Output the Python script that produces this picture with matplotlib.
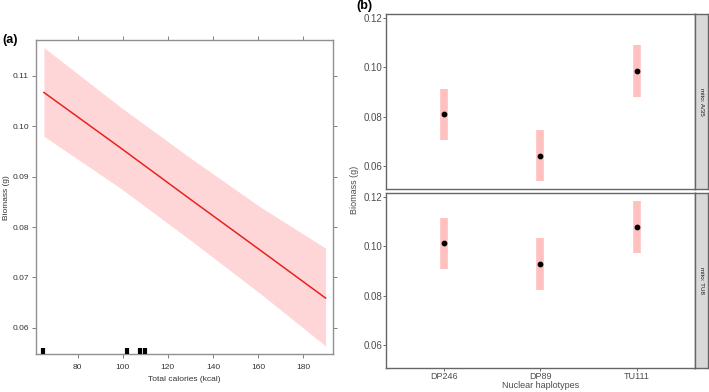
import matplotlib
matplotlib.use("Agg")
import matplotlib.pyplot as plt

plt.rcParams["font.family"] = ["Liberation Sans", "DejaVu Sans"]

# panel (a): fitted biomass vs total calories
calories = [65, 99, 130, 161, 190]
fit = [0.1067, 0.0957, 0.0855, 0.0754, 0.0659]
lower = [0.0980, 0.0877, 0.0774, 0.0668, 0.0564]
upper = [0.1156, 0.1038, 0.0937, 0.0840, 0.0758]
rug = [64.7, 101.9, 107.8, 109.9]

# panel (b): estimates by nuclear haplotype within each mito haplotype
haplotypes = ["DP246", "DP89", "TU111"]
mito = ["mito: A/35", "mito: TU8"]
est = [[0.0810, 0.0642, 0.0984], [0.1011, 0.0927, 0.1079]]
lo = [[0.0705, 0.0539, 0.0881], [0.0906, 0.0824, 0.0973]]
hi = [[0.0912, 0.0746, 0.1091], [0.1115, 0.1031, 0.1184]]

fig = plt.figure(figsize=(7.09, 3.92), dpi=100)

# ---- panel (a)
ax = fig.add_axes([0.0508, 0.0969, 0.4189, 0.801])
ax.fill_between(calories, lower, upper, color="#ffd6d8", lw=0)
ax.plot(calories, fit, color="#e8221f", lw=1.1)
ax.vlines(rug, 0, 0.018, transform=ax.get_xaxis_transform(), color="black",
          lw=3, zorder=4, clip_on=False)
ax.set_xlim(61.5, 193.3)
ax.set_ylim(0.0548, 0.1171)
ax.set_xticks([80, 100, 120, 140, 160, 180])
ax.set_yticks([0.06, 0.07, 0.08, 0.09, 0.10, 0.11])
ax.set_yticklabels(["0.06", "0.07", "0.08", "0.09", "0.10", "0.11"])
ax.tick_params(which="both", direction="out", length=3, width=0.7, color="#808080",
               labelsize=6, labelcolor="#333333", top=True, right=True, pad=2)
ax.tick_params(axis="x", pad=4)
for s in ax.spines.values():
    s.set_color("#909090")
    s.set_linewidth(1.0)
ax.set_xlabel("Total calories (kcal)", fontsize=6, color="#333333", labelpad=4)
fig.text(0.009, 0.497, "Biomass (g)", rotation=90, ha="center", va="center",
         fontsize=6, color="#333333")
fig.text(0.004, 0.898, "(a)", fontsize=9, fontweight="bold", va="center")

# ---- panel (b)
boxes = [[0.5444, 0.5179, 0.4358, 0.4464], [0.5444, 0.0612, 0.4358, 0.4464]]
for i, b in enumerate(boxes):
    bx = fig.add_axes(b)
    xs = list(range(1, len(haplotypes) + 1))
    bx.vlines(xs, lo[i], hi[i], color="#ffc0c0", lw=5.5)
    bx.scatter(xs, est[i], color="black", s=10, zorder=3)
    bx.set_xlim(0.4, 3.6)
    bx.set_ylim(0.0507, 0.1215)
    bx.set_yticks([0.06, 0.08, 0.10, 0.12])
    bx.set_yticklabels(["0.06", "0.08", "0.10", "0.12"])
    bx.set_xticks(xs)
    bx.tick_params(direction="out", length=2, width=0.6, color="#555555",
                   labelsize=7, labelcolor="#4d4d4d", pad=0.8)
    bx.tick_params(axis="x", labelsize=6.5)
    if i == 0:
        bx.tick_params(axis="x", bottom=False, labelbottom=False)
    else:
        bx.set_xticklabels(haplotypes)
    for s in bx.spines.values():
        s.set_color("#666666")
        s.set_linewidth(1.0)
    sx = fig.add_axes([0.9803, b[1], 0.0183, b[3]])
    sx.set_facecolor("#d9d9d9")
    sx.set_xticks([])
    sx.set_yticks([])
    for s in sx.spines.values():
        s.set_color("#666666")
        s.set_linewidth(1.0)
    sx.text(0.5, 0.5, mito[i], rotation=270, ha="center", va="center",
            fontsize=4.5, color="#1a1a1a", transform=sx.transAxes)

fig.text(0.7623, 0.016, "Nuclear haplotypes", ha="center", va="center",
         fontsize=6.5, color="#4d4d4d")
fig.text(0.5007, 0.515, "Biomass (g)", rotation=90, ha="center", va="center",
         fontsize=6.5, color="#4d4d4d")
fig.text(0.503, 0.985, "(b)", fontsize=9, fontweight="bold", va="center")

fig.savefig("out.png", dpi=100)
